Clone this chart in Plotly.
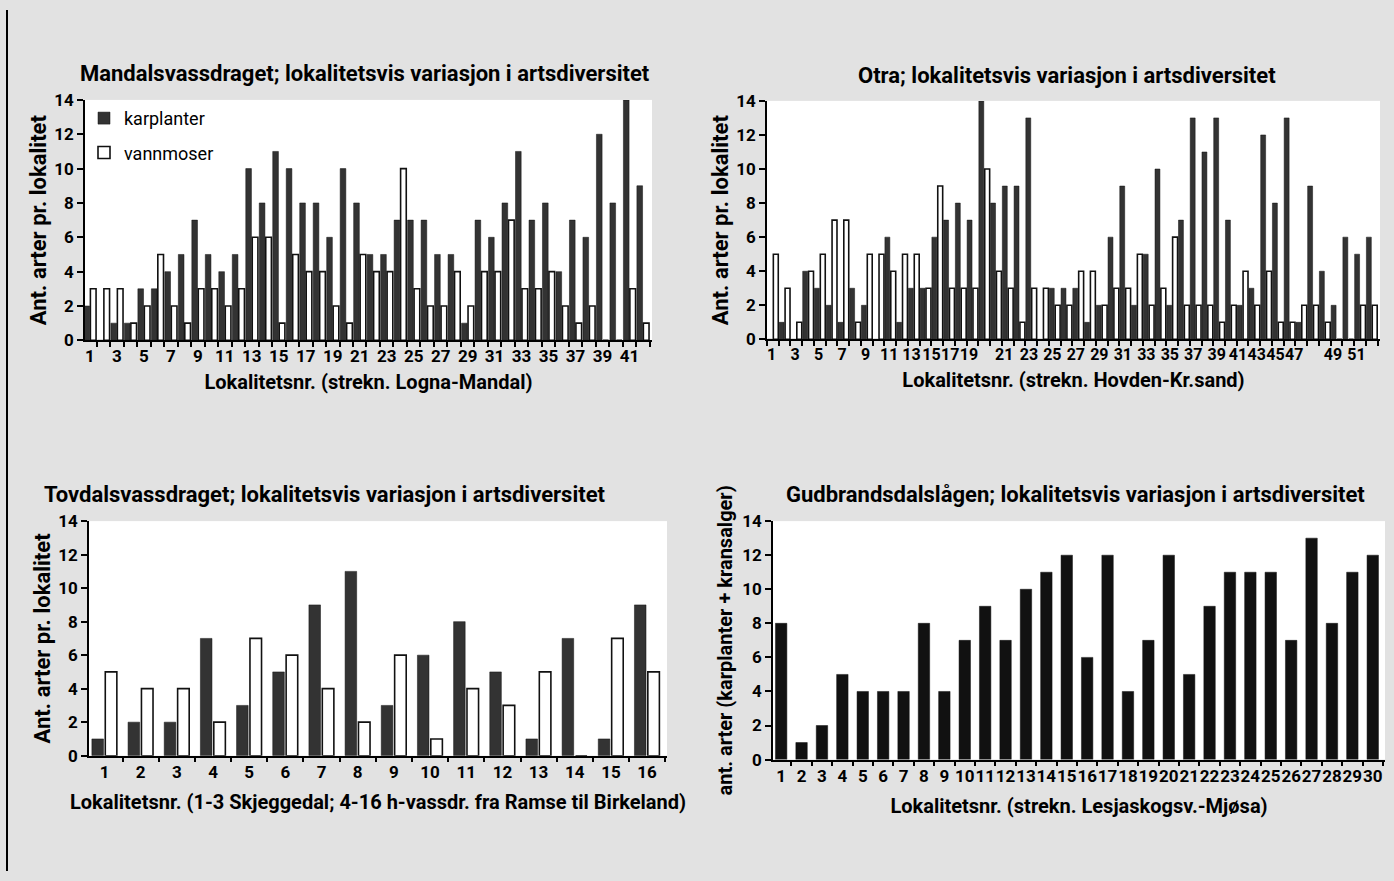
import plotly.graph_objects as go

W, H = 1394, 881

# ---------------- data ----------------
mandal_loc = list(range(1, 43))
mandal_karplanter = [2, 0, 1, 1, 3, 3, 4, 5, 7, 5, 4, 5, 10, 8, 11, 10, 8, 8, 6, 10, 8,
                     5, 5, 7, 7, 7, 5, 5, 1, 7, 6, 8, 11, 7, 8, 4, 7, 6, 12, 8, 14, 9]
mandal_vannmoser = [3, 3, 3, 1, 2, 5, 2, 1, 3, 3, 2, 3, 6, 6, 1, 5, 4, 4, 2, 1, 5,
                    4, 4, 10, 3, 2, 2, 4, 2, 4, 4, 7, 3, 3, 4, 2, 1, 2, 0, 0, 3, 1]
mandal_ticks = list(range(1, 42, 2))

otra_loc = list(range(1, 53))
otra_karplanter = [0, 1, 0, 4, 3, 2, 1, 3, 2, 0, 6, 1, 3, 3, 6, 7, 8, 7, 14, 8, 9, 9, 13, 0, 3, 3,
                   3, 1, 2, 6, 9, 2, 5, 10, 2, 7, 13, 11, 13, 7, 2, 3, 12, 8, 13, 1, 9, 4, 2, 6, 5, 6]
otra_vannmoser = [5, 3, 1, 4, 5, 7, 7, 1, 5, 5, 4, 5, 5, 3, 9, 3, 3, 3, 10, 4, 3, 1, 3, 3, 2, 2,
                  4, 4, 2, 3, 3, 5, 2, 3, 6, 2, 2, 2, 1, 2, 4, 2, 4, 1, 1, 2, 2, 1, 0, 0, 2, 2]
otra_tick_text = ["1", "3", "5", "7", "9", "11", "13", "15", "17", "19", "21", "23", "25", "27",
                  "29", "31", "33", "35", "37", "39", "41", "43", "45", "47", "49", "51"]
otra_tick_pos = [0.9, 2.9, 4.9, 6.9, 8.9, 10.9, 12.8, 14.5, 16.1, 17.7, 20.7, 22.8, 24.8, 26.8,
                 28.8, 30.8, 32.8, 34.8, 36.8, 38.8, 40.6, 42.2, 43.8, 45.4, 48.7, 50.7]

tovdal_loc = list(range(1, 17))
tovdal_karplanter = [1, 2, 2, 7, 3, 5, 9, 11, 3, 6, 8, 5, 1, 7, 1, 9]
tovdal_vannmoser = [5, 4, 4, 2, 7, 6, 4, 2, 6, 1, 4, 3, 5, 0, 7, 5]

gudbr_loc = list(range(1, 31))
gudbr_arter = [8, 1, 2, 5, 4, 4, 4, 8, 4, 7, 9, 7, 10, 11, 12, 6, 12, 4, 7, 12, 5, 9, 11, 11,
               11, 7, 13, 8, 11, 12]

# ---------------- style ----------------
FONT = "Roboto"
DARK = "#333333"
BLACK = "#111111"
PAGE = "#e2e2e2"


def px_x(p):
    return p / W


def px_y(p):
    return 1 - p / H


fig = go.Figure()

panels = [
    ("x", "y", mandal_loc, mandal_karplanter, mandal_vannmoser, 0.42, -0.45, 0.03, True),
    ("x2", "y2", otra_loc, otra_karplanter, otra_vannmoser, 0.42, -0.46, 0.04, False),
    ("x3", "y3", tovdal_loc, tovdal_karplanter, tovdal_vannmoser, 0.32, -0.35, 0.02, False),
]

for xa, ya, loc, dark, white, w, doff, woff, leg in panels:
    fig.add_trace(go.Bar(
        x=loc, y=dark, name="karplanter", xaxis=xa, yaxis=ya,
        width=w, offset=doff, marker=dict(color=DARK, line=dict(color=BLACK, width=0.5)),
        showlegend=leg, legendgroup="k"))
    fig.add_trace(go.Bar(
        x=loc, y=white, name="vannmoser", xaxis=xa, yaxis=ya,
        width=w, offset=woff, marker=dict(color="white", line=dict(color=BLACK, width=1.6)),
        showlegend=leg, legendgroup="v"))

fig.add_trace(go.Bar(
    x=gudbr_loc, y=gudbr_arter, name="karplanter + kransalger", xaxis="x4", yaxis="y4",
    width=0.56, marker=dict(color=BLACK, line=dict(color=BLACK, width=0.5)), showlegend=False))

tickfont = dict(family=FONT, size=17, color="black", weight="bold")


def xaxis(domain, anchor, rng, title, tickvals, ticktext=None, standoff=6, tsize=17):
    return dict(domain=[px_x(domain[0]), px_x(domain[1])], anchor=anchor, range=rng,
                tickmode="array", tickvals=tickvals,
                ticktext=ticktext if ticktext is not None else [str(v) for v in tickvals],
                ticks="", tickangle=0, showline=True, linecolor="black", linewidth=1.5,
                showgrid=False, zeroline=False,
                tickfont=dict(family=FONT, size=tsize, color="black", weight="bold"),
                minor=dict(tickmode="linear", tick0=0.5, dtick=1, ticks="outside", ticklen=5,
                           tickwidth=1.5, tickcolor="black", showgrid=False),
                title=dict(text=title, standoff=standoff,
                           font=dict(family=FONT, size=20, color="black", weight="bold")))


def yaxis(domain, anchor, title, size=22, standoff=4):
    return dict(domain=[px_y(domain[1]), px_y(domain[0])], anchor=anchor, range=[0, 14],
                tickmode="linear", tick0=0, dtick=2, ticks="outside", ticklen=6,
                tickwidth=1.5, tickcolor="black", showline=True, linecolor="black",
                linewidth=1.5, showgrid=False, zeroline=False, tickfont=tickfont,
                title=dict(text=title, standoff=standoff,
                           font=dict(family=FONT, size=size, color="black", weight="bold")))


fig.update_layout(
    width=W, height=H, margin=dict(l=0, r=0, t=0, b=0),
    paper_bgcolor=PAGE, plot_bgcolor="white", barmode="overlay",
    font=dict(family=FONT, color="black"),
    xaxis=xaxis((85, 652), "y", [0.63, 42.67], "Lokalitetsnr. (strekn. Logna-Mandal)",
                mandal_ticks, standoff=10),
    yaxis=yaxis((92, 338), "x", "Ant. arter pr. lokalitet", standoff=2),
    xaxis2=xaxis((767, 1380), "y2", [0.5, 52.7], "Lokalitetsnr. (strekn. Hovden-Kr.sand)",
                 otra_tick_pos, otra_tick_text, standoff=10, tsize=16),
    yaxis2=yaxis((93, 337), "x2", "Ant. arter pr. lokalitet", standoff=2),
    xaxis3=xaxis((89, 667), "y3", [0.57, 16.55],
                 "Lokalitetsnr. (1-3 Skjeggedal; 4-16 h-vassdr. fra Ramse til Birkeland)",
                 tovdal_loc, standoff=14),
    yaxis3=yaxis((523, 763), "x3", "Ant. arter pr. lokalitet", standoff=2),
    xaxis4=xaxis((773, 1385), "y4", [0.6, 30.6], "Lokalitetsnr. (strekn. Lesjaskogsv.-Mjøsa)",
                 gudbr_loc, standoff=14),
    yaxis4=yaxis((523, 767), "x4", "ant. arter (karplanter + kransalger)", size=20, standoff=4),
    legend=dict(x=px_x(84), y=px_y(92), xanchor="left", yanchor="top",
                bgcolor="rgba(0,0,0,0)", font=dict(family=FONT, size=18, color="black"),
                traceorder="grouped", tracegroupgap=8, itemwidth=30),
)

titles = [
    ("Mandalsvassdraget; lokalitetsvis variasjon i artsdiversitet", 365, 65),
    ("Otra; lokalitetsvis variasjon i artsdiversitet", 1067, 67),
    ("Tovdalsvassdraget; lokalitetsvis variasjon i artsdiversitet", 325, 496),
    ("Gudbrandsdalslågen; lokalitetsvis variasjon i artsdiversitet", 1075, 496),
]
for text, cx, cy in titles:
    fig.add_annotation(text=text, x=px_x(cx), y=px_y(cy), xref="paper", yref="paper",
                       showarrow=False, xanchor="center", yanchor="middle",
                       font=dict(family=FONT, size=22, color="black", weight="bold"))

fig.add_shape(type="line", xref="paper", yref="paper", x0=px_x(7), x1=px_x(7), y0=0, y1=1,
              line=dict(color="black", width=2))

fig.write_html("out.html", post_script="document.body.style.margin='0';")
